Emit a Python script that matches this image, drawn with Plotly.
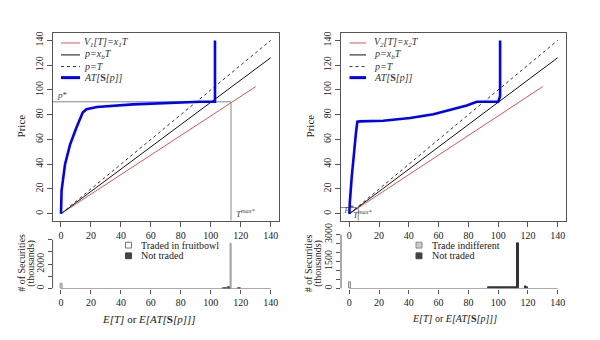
import plotly.graph_objects as go

W, H = 600, 340
FONT = "Times New Roman, Liberation Serif, serif"

# ---------------- data ----------------
ticks_x = [0, 20, 40, 60, 80, 100, 120, 140]
ticks_price = [0, 20, 40, 60, 80, 100, 120, 140]

# value lines (both panels)
red_T = [0, 130]
red_P = [0, 102.7]
blk_T = [0, 140]
blk_P = [0, 126]
dash_T = [0, 140]
dash_P = [0, 140]

# left panel AT[S[p]] curve
blueL_T = [0, 0.4, 2.7, 6, 10, 14.5, 17, 24, 48, 71, 93, 102.8, 102.8]
blueL_P = [0, 19, 40, 55.6, 68.7, 81.7, 84.4, 86.2, 88.3, 89.6, 90.4, 90.4, 140]
pstarL = 90.4
tmaxL = 113.5

# right panel AT[S[p]] curve
blueR_T = [0, 0.3, 1.6, 3.1, 4.5, 5.4, 7.2, 22.8, 40.8, 56.5, 67.7, 78.9, 85.6, 100.1, 101.3, 101.3]
blueR_P = [0, 8.6, 29.5, 50.4, 66, 74.4, 74.6, 75.1, 77.3, 80.4, 83.8, 87.5, 90.4, 90.4, 95, 140]
pstarR = 5
tmaxR = 6

# histograms (thousands of securities), bins of width 1, value = bin centre
histL_traded_x = [0.5, 113.5]
histL_traded_y = [420, 3700]
histL_not_x = [108.5, 109.5, 110.5, 111.5, 112.5, 118.5, 119.5]
histL_not_y = [40, 60, 80, 110, 150, 90, 30]

histR_indiff_x = [0.5]
histR_indiff_y = [330]
histR_not_x = [93.5, 94.5, 95.5, 96.5, 97.5, 98.5, 99.5, 100.5, 101.5, 102.5, 103.5,
               104.5, 105.5, 106.5, 107.5, 108.5, 109.5, 110.5, 111.5, 112.5, 113.5,
               118.5, 119.5]
histR_not_y = [70, 70, 70, 70, 70, 70, 70, 70, 70, 70, 70,
               70, 70, 70, 70, 70, 70, 70, 70, 70, 2500,
               150, 50]

hist_labelsL = [0, 2000]
hist_minorL = [1000, 3000, 4000]
hist_labelsR = [0, 1500, 3000]
hist_minorR = [500, 1000, 2000, 2500]

# ---------------- helpers ----------------
def px(x):
    return x / W

def py(y):
    return 1 - y / H

RED = "#e05555"
BLUE = "#0000ff"
FRAME = "#555555"
GRAY = "#888888"

fig = go.Figure()

def add_top(xa, ya, bT, bP, pstar, tmax):
    fig.add_trace(go.Scatter(x=red_T, y=red_P, mode="lines", line=dict(color=RED, width=1),
                             xaxis=xa, yaxis=ya, showlegend=False, hoverinfo="skip"))
    fig.add_trace(go.Scatter(x=blk_T, y=blk_P, mode="lines", line=dict(color="#111111", width=1),
                             xaxis=xa, yaxis=ya, showlegend=False, hoverinfo="skip"))
    fig.add_trace(go.Scatter(x=dash_T, y=dash_P, mode="lines",
                             line=dict(color="#333333", width=1, dash="3px,3px"),
                             xaxis=xa, yaxis=ya, showlegend=False, hoverinfo="skip"))
    # p* and T max guide lines
    fig.add_trace(go.Scatter(x=[-5.6, tmax, tmax], y=[pstar, pstar, -5.6], mode="lines",
                             line=dict(color=GRAY, width=1),
                             xaxis=xa, yaxis=ya, showlegend=False, hoverinfo="skip"))
    fig.add_trace(go.Scatter(x=bT, y=bP, mode="lines", line=dict(color=BLUE, width=2.6),
                             xaxis=xa, yaxis=ya, showlegend=False, hoverinfo="skip"))

add_top("x", "y", blueL_T, blueL_P, pstarL, tmaxL)
add_top("x2", "y2", blueR_T, blueR_P, pstarR, tmaxR)

# histograms
fig.add_trace(go.Bar(x=histL_not_x, y=histL_not_y, width=1, marker=dict(color="#555555", line=dict(color="#444444", width=0.5)),
                     xaxis="x3", yaxis="y3", showlegend=False, hoverinfo="skip"))
fig.add_trace(go.Bar(x=histL_traded_x, y=histL_traded_y, width=1, marker=dict(color="#cccccc", line=dict(color="#999999", width=1)),
                     xaxis="x3", yaxis="y3", showlegend=False, hoverinfo="skip"))
fig.add_trace(go.Bar(x=histR_not_x, y=histR_not_y, width=1, marker=dict(color="#333333", line=dict(color="#333333", width=1)),
                     xaxis="x4", yaxis="y4", showlegend=False, hoverinfo="skip"))
fig.add_trace(go.Bar(x=histR_indiff_x, y=histR_indiff_y, width=1,
                     marker=dict(color="#dddddd", line=dict(color="#888888", width=1),
                                 pattern=dict(shape="x", size=3, fgcolor="#888888", bgcolor="#eeeeee")),
                     xaxis="x4", yaxis="y4", showlegend=False, hoverinfo="skip"))

# ---------------- axes ----------------
tickfont = dict(family=FONT, size=10, color="#222222")
xr = [-5.6, 145.6]

def top_x(domain, anchor):
    return dict(domain=domain, anchor=anchor, range=xr, tickvals=ticks_x, showline=True, mirror=True,
                linecolor=FRAME, linewidth=1, ticks="outside", ticklen=5, tickcolor=FRAME,
                tickfont=tickfont, showgrid=False, zeroline=False)

def top_y(domain, anchor):
    return dict(domain=domain, anchor=anchor, range=xr, tickvals=ticks_price, showline=True, mirror=True,
                linecolor=FRAME, linewidth=1, ticks="outside", ticklen=5, tickcolor=FRAME,
                tickangle=-90, tickfont=tickfont, showgrid=False, zeroline=False)

def hist_y(domain, anchor, rng, major, minor):
    return dict(domain=domain, anchor=anchor, range=rng, tickvals=major, showline=False,
                ticks="outside", ticklen=4, tickcolor=FRAME, tickangle=-90, tickfont=tickfont,
                showgrid=False, zeroline=False,
                minor=dict(tickvals=minor, ticks="outside", ticklen=4, tickcolor=FRAME, showgrid=False))

xdomL = [px(52.6), px(279.1)]
xdomR = [px(341.0), px(566.0)]
ydomTop = [py(218.1), py(25.2)]

fig.update_layout(
    xaxis=top_x(xdomL, "y"),
    yaxis=top_y(ydomTop, "x"),
    xaxis2=top_x(xdomR, "y2"),
    yaxis2=top_y(ydomTop, "x2"),
    xaxis3=dict(domain=xdomL, anchor="y3", range=xr, tickvals=ticks_x, showline=False, ticks="outside",
                ticklen=4, tickcolor=FRAME, tickfont=tickfont, showgrid=False, zeroline=False),
    yaxis3=hist_y([py(288), py(235.7)], "x3", [0, 4160], hist_labelsL, hist_minorL),
    xaxis4=dict(domain=xdomR, anchor="y4", range=xr, tickvals=ticks_x, showline=False, ticks="outside",
                ticklen=4, tickcolor=FRAME, tickfont=tickfont, showgrid=False, zeroline=False),
    yaxis4=hist_y([py(288), py(230.1)], "x4", [0, 3120], hist_labelsR, hist_minorR),
    barmode="overlay",
    bargap=0,
    width=W, height=H,
    margin=dict(l=0, r=0, t=0, b=0),
    paper_bgcolor="white", plot_bgcolor="white",
    font=dict(family=FONT, size=10, color="#222222"),
    showlegend=False,
)

shapes = []
annotations = []

# histogram axis lines (span first to last tick)
for xa, ya, ymax in [("x3", "y3", hist_minorL[-1]), ("x4", "y4", hist_labelsR[-1])]:
    shapes.append(dict(type="line", xref=xa, yref=ya, x0=ticks_x[0], x1=ticks_x[-1], y0=0, y1=0,
                       line=dict(color=FRAME, width=1)))
    shapes.append(dict(type="line", xref=xa + " domain", yref=ya, x0=0, x1=0, y0=0, y1=ymax,
                       line=dict(color=FRAME, width=1)))

def txt(x, y, text, size=10, angle=0, xanchor="center", color="#222222"):
    annotations.append(dict(x=px(x), y=py(y), xref="paper", yref="paper", text=text, showarrow=False,
                            xanchor=xanchor, yanchor="middle", textangle=angle,
                            font=dict(family=FONT, size=size, color=color)))

# top legends (manual, compact R-style)
def top_legend(x0, x1, xt, sub):
    rows = [35, 47.3, 59.3, 70.7]
    styles = [dict(color=RED, width=1), dict(color="#111111", width=1),
              dict(color="#333333", width=1, dash="dot"), dict(color=BLUE, width=3)]
    labels = [f"<i>V<sub>{sub}</sub>[T]=x<sub>{sub}</sub>T</i>", "<i>p=x<sub>b</sub>T</i>", "<i>p=T</i>",
              "<i>AT[</i><b>S</b><i>[p]]</i>"]
    for r, s, lab in zip(rows, styles, labels):
        shapes.append(dict(type="line", xref="paper", yref="paper", x0=px(x0), x1=px(x1), y0=py(r), y1=py(r), line=s))
        txt(xt, r, lab, size=10, xanchor="left", color="#333333")

top_legend(61, 80, 82, "1")
top_legend(349.5, 366, 372, "2")

# p* / Tmax labels
txt(55, 89, "<i>p</i>*", size=9, xanchor="left", color="#444444")
txt(234, 210, "<i>T<sup>max*</sup></i>", size=9, xanchor="left", color="#444444")
txt(342, 205, "<i>p</i>*", size=9, xanchor="left", color="#444444")
txt(351, 211, "<i>T<sup>max*</sup></i>", size=9, xanchor="left", color="#444444")

# axis titles
txt(21, 121, "Price", size=11, angle=-90)
txt(310, 121, "Price", size=11, angle=-90)
for xc in [21.5, 308]:
    txt(xc, 262, "# of Securities", size=10, angle=-90)
for xc in [31.5, 318.5]:
    txt(xc, 262, "(thousands)", size=10, angle=-90)
xtitle = "<i>E[T]</i> or <i>E[AT[</i><b>S</b><i>[p]]]</i>"
txt(149, 319, xtitle, size=11)
txt(454, 319, xtitle, size=10)

# histogram legends
for (sx, lab, fill, border) in [
    (128.5, "Traded in fruitbowl", "white", "#777777"),
    (419, "Trade indifferent", "#cccccc", "#888888"),
]:
    shapes.append(dict(type="rect", xref="paper", yref="paper", x0=px(sx - 3), x1=px(sx + 3),
                       y0=py(243.3 + 3), y1=py(243.3 - 3), fillcolor=fill, line=dict(color=border, width=1)))
    txt(sx + 10.5, 243.3, lab, size=10, xanchor="left")
    shapes.append(dict(type="rect", xref="paper", yref="paper", x0=px(sx - 3), x1=px(sx + 3),
                       y0=py(254.3 + 3), y1=py(254.3 - 3), fillcolor="#444444", line=dict(color="#444444", width=1)))
    txt(sx + 10.5, 254.3, "Not traded", size=10, xanchor="left")

fig.update_layout(shapes=shapes, annotations=annotations)
fig.write_html("out.html")
